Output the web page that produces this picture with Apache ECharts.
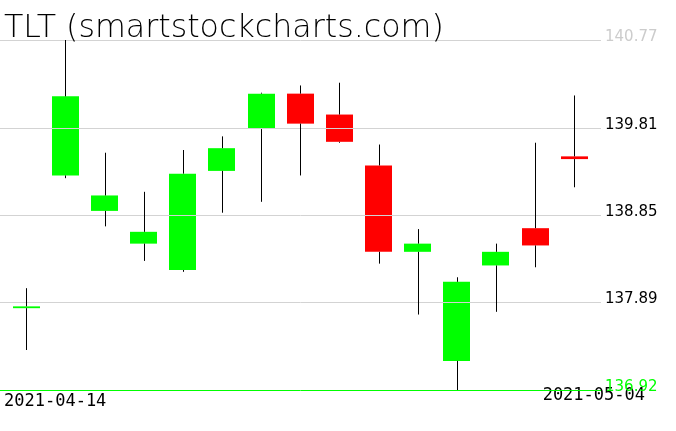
<!DOCTYPE html>
<html><head><meta charset="utf-8">
<script src="https://cdn.jsdelivr.net/npm/echarts@6/dist/echarts.min.js"></script>
<style>html,body{margin:0;padding:0;background:#fff}#c{width:676px;height:431px}</style>
</head><body><div id="c"></div>
<script>
const titleText = 'TLT (smartstockcharts.com)';
const dates = ['2021-04-14','2021-04-15','2021-04-16','2021-04-19','2021-04-20','2021-04-21','2021-04-22','2021-04-23','2021-04-26','2021-04-27','2021-04-28','2021-04-29','2021-04-30','2021-05-03','2021-05-04'];
const opens  = [137.82, 139.28, 138.89, 138.53, 138.24, 139.33, 139.79, 140.18, 139.95, 139.39, 138.44, 137.24, 138.29, 138.70, 139.49];
const highs  = [138.04, 140.77, 139.53, 139.10, 139.56, 139.71, 140.19, 140.27, 140.30, 139.62, 138.69, 138.16, 138.53, 139.64, 140.16];
const lows   = [137.36, 139.25, 138.72, 138.34, 138.22, 138.87, 138.99, 139.28, 139.64, 138.31, 137.75, 136.92, 137.78, 138.27, 139.15];
const closes = [137.84, 140.15, 139.06, 138.66, 139.30, 139.58, 140.18, 139.85, 139.65, 138.44, 138.53, 138.11, 138.44, 138.51, 139.46];
const tickValues = [136.92, 137.89, 138.85, 139.81, 140.77];
const tickLabels = ['136.92', '137.89', '138.85', '139.81', '140.77'];

const FONT = '"DejaVu Sans", sans-serif';
const MONO = '"DejaVu Sans Mono", monospace';
const GREEN = '#00ff00', RED = '#ff0000', GRID = '#d3d3d3';
const yMin = Math.min(...lows), yMax = Math.max(...highs);

const candleData = dates.map((d, i) => [i, opens[i], closes[i], lows[i], highs[i]]);
const tickData = tickValues.map(v => [0, v]);

function renderBody(params, api) {
  const i = api.value(0), o = api.value(1), c = api.value(2);
  const pO = api.coord([i, o]), pC = api.coord([i, c]);
  const w = api.size([1, 0])[0] * 0.69;
  const top = Math.min(pO[1], pC[1]), bot = Math.max(pO[1], pC[1]);
  return {
    type: 'rect',
    shape: { x: Math.round(pO[0] - w / 2), y: top, width: Math.round(w), height: Math.max(bot - top, 1) },
    style: { fill: c >= o ? GREEN : RED }
  };
}
function renderWick(params, api) {
  const i = api.value(0), o = api.value(1), c = api.value(2), l = api.value(3), h = api.value(4);
  const pH = api.coord([i, h]), pL = api.coord([i, l]);
  const yTop = api.coord([i, Math.max(o, c)])[1], yBot = api.coord([i, Math.min(o, c)])[1];
  const x = Math.round(pH[0]) + 0.5;
  return {
    type: 'group',
    children: [
      { type: 'line', shape: { x1: x, y1: pH[1], x2: x, y2: yTop }, style: { stroke: '#000', lineWidth: 1 } },
      { type: 'line', shape: { x1: x, y1: yBot, x2: x, y2: pL[1] }, style: { stroke: '#000', lineWidth: 1 } }
    ]
  };
}
function renderTick(params, api) {
  const idx = params.dataIndex, n = tickValues.length;
  const v = api.value(1);
  const p0 = api.coord([0, v]), p1 = api.coord([1, v]);
  const y = Math.ceil(p0[1] - 1e-6) + 0.5;
  const lineColor = idx === 0 ? GREEN : GRID;
  const labelColor = idx === 0 ? GREEN : (idx === n - 1 ? '#cccccc' : '#000');
  return {
    type: 'group',
    children: [
      { type: 'line', shape: { x1: p0[0], y1: y, x2: p1[0], y2: y }, style: { stroke: lineColor, lineWidth: 1 } },
      { type: 'text', x: p1[0] + 4, y: y + 4,
        style: { text: tickLabels[idx], fill: labelColor, font: '15px ' + FONT, align: 'left', verticalAlign: 'bottom' } }
    ]
  };
}

const chart = echarts.init(document.getElementById('c'), null, { renderer: 'canvas' });
chart.setOption({
  animation: false,
  backgroundColor: '#fff',
  title: {
    text: titleText, left: 4, top: 13, padding: 0,
    textStyle: { fontFamily: FONT, fontSize: 31.7, fontWeight: 200, color: '#000' }
  },
  grid: [
    { left: 6.73, width: 587.1, top: 40, height: 350 },
    { left: 0, width: 601, top: 40, height: 350 }
  ],
  xAxis: [
    { type: 'category', data: dates, gridIndex: 0, boundaryGap: true, show: false },
    { type: 'value', min: 0, max: 1, gridIndex: 1, show: false }
  ],
  yAxis: [
    { type: 'value', min: yMin, max: yMax, gridIndex: 0, show: false },
    { type: 'value', min: yMin, max: yMax, gridIndex: 1, show: false }
  ],
  graphic: [
    { type: 'text', left: 4, top: 393, style: { text: dates[0], font: '17px ' + MONO, fill: '#000' } },
    { type: 'text', right: 31, top: 387, style: { text: dates[dates.length - 1], font: '17px ' + MONO, fill: '#000' } }
  ],
  series: [
    { type: 'custom', name: 'body', xAxisIndex: 0, yAxisIndex: 0, z: 2, data: candleData,
      encode: { x: 0, y: [1, 2, 3, 4] }, renderItem: renderBody },
    { type: 'custom', name: 'grid', xAxisIndex: 1, yAxisIndex: 1, z: 3, data: tickData,
      encode: { x: 0, y: 1 }, renderItem: renderTick, silent: true },
    { type: 'custom', name: 'wick', xAxisIndex: 0, yAxisIndex: 0, z: 4, data: candleData,
      encode: { x: 0, y: [1, 2, 3, 4] }, renderItem: renderWick }
  ]
});
</script></body></html>
